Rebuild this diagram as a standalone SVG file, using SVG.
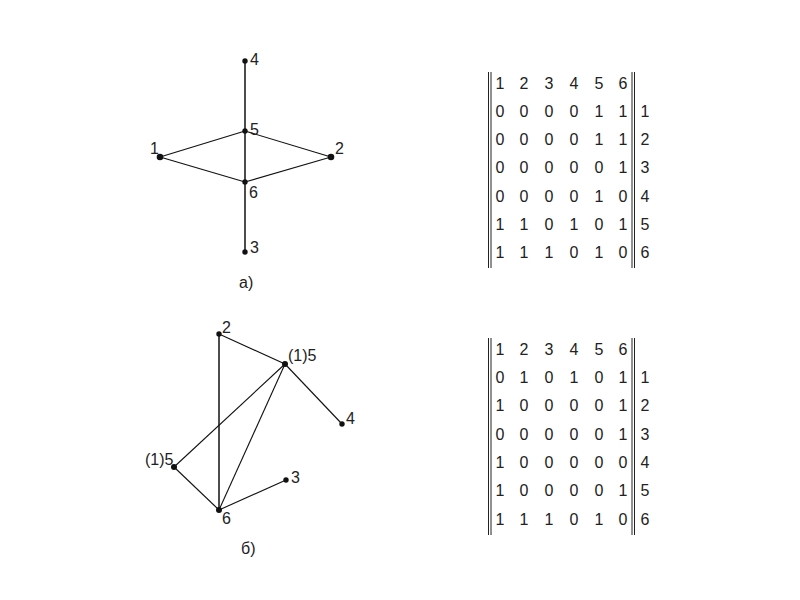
<svg xmlns="http://www.w3.org/2000/svg" width="800" height="600" viewBox="0 0 800 600">
<style>
.e{stroke:#111;stroke-width:1.1;fill:none}
.ev{stroke:#111;stroke-width:1.5;fill:none}
.d{fill:#111}
.lb{font-family:"Liberation Sans",Arial,sans-serif;font-size:16px;fill:#222}
.m{font-family:"Liberation Sans",Arial,sans-serif;font-size:16px;fill:#222;text-anchor:middle}
.bar{stroke:#222;stroke-width:1}
</style>
<rect width="800" height="600" fill="#fff"/>
<g id="connectors-a">
<line class="ev" x1="245" y1="61" x2="245" y2="131"/>
<line class="ev" x1="245" y1="131" x2="245" y2="182"/>
<line class="ev" x1="245" y1="182" x2="245" y2="252"/>
<line class="e" x1="160" y1="157" x2="245" y2="131"/>
<line class="e" x1="160" y1="157" x2="245" y2="182"/>
<line class="e" x1="331" y1="157" x2="245" y2="131"/>
<line class="e" x1="331" y1="157" x2="245" y2="182"/>
</g>
<g id="a-n4"><circle class="d" cx="245" cy="61" r="2.7"/><text class="lb" x="250" y="65">4</text></g>
<g id="a-n5"><circle class="d" cx="245" cy="131" r="2.7"/><text class="lb" x="250" y="135">5</text></g>
<g id="a-n1"><circle class="d" cx="160" cy="157" r="3.3"/><text class="lb" x="150" y="154">1</text></g>
<g id="a-n2"><circle class="d" cx="331" cy="157" r="3.3"/><text class="lb" x="335" y="154">2</text></g>
<g id="a-n6"><circle class="d" cx="245" cy="182" r="2.7"/><text class="lb" x="249" y="198">6</text></g>
<g id="a-n3"><circle class="d" cx="245" cy="252" r="2.7"/><text class="lb" x="250" y="253">3</text></g>
<text class="lb" x="239" y="288">а)</text>

<g id="connectors-b">
<line class="ev" x1="219" y1="334" x2="219" y2="510"/>
<line class="e" x1="219" y1="334" x2="285" y2="364"/>
<line class="e" x1="285" y1="364" x2="342" y2="424"/>
<line class="e" x1="285" y1="364" x2="174" y2="467"/>
<line class="e" x1="285" y1="364" x2="219" y2="510"/>
<line class="e" x1="174" y1="467" x2="219" y2="510"/>
<line class="e" x1="219" y1="510" x2="286" y2="480"/>
</g>
<g id="b-n2"><circle class="d" cx="219" cy="334" r="2.7"/><text class="lb" x="222" y="333">2</text></g>
<g id="b-n5a"><circle class="d" cx="285" cy="364" r="3"/><text class="lb" x="288" y="361">(1)5</text></g>
<g id="b-n4"><circle class="d" cx="342" cy="424" r="2.7"/><text class="lb" x="346" y="424">4</text></g>
<g id="b-n5b"><circle class="d" cx="174" cy="467" r="3"/><text class="lb" x="145" y="465">(1)5</text></g>
<g id="b-n3"><circle class="d" cx="286" cy="480" r="2.7"/><text class="lb" x="291" y="483">3</text></g>
<g id="b-n6"><circle class="d" cx="219" cy="510" r="3"/><text class="lb" x="222" y="524">6</text></g>
<text class="lb" x="241" y="554">б)</text>

<g id="matrix-a">
<line class="bar" x1="488.5" y1="72" x2="488.5" y2="268"/>
<line class="bar" x1="491" y1="72" x2="491" y2="268"/>
<line class="bar" x1="632" y1="72" x2="632" y2="268"/>
<line class="bar" x1="634.5" y1="72" x2="634.5" y2="268"/>
<text class="m" y="88.5"><tspan x="500">1</tspan><tspan x="524">2</tspan><tspan x="549">3</tspan><tspan x="574">4</tspan><tspan x="599">5</tspan><tspan x="623">6</tspan></text>
<text class="m" y="116.8"><tspan x="500">0</tspan><tspan x="524">0</tspan><tspan x="549">0</tspan><tspan x="574">0</tspan><tspan x="599">1</tspan><tspan x="623">1</tspan><tspan x="645">1</tspan></text>
<text class="m" y="145.1"><tspan x="500">0</tspan><tspan x="524">0</tspan><tspan x="549">0</tspan><tspan x="574">0</tspan><tspan x="599">1</tspan><tspan x="623">1</tspan><tspan x="645">2</tspan></text>
<text class="m" y="173.4"><tspan x="500">0</tspan><tspan x="524">0</tspan><tspan x="549">0</tspan><tspan x="574">0</tspan><tspan x="599">0</tspan><tspan x="623">1</tspan><tspan x="645">3</tspan></text>
<text class="m" y="201.7"><tspan x="500">0</tspan><tspan x="524">0</tspan><tspan x="549">0</tspan><tspan x="574">0</tspan><tspan x="599">1</tspan><tspan x="623">0</tspan><tspan x="645">4</tspan></text>
<text class="m" y="230"><tspan x="500">1</tspan><tspan x="524">1</tspan><tspan x="549">0</tspan><tspan x="574">1</tspan><tspan x="599">0</tspan><tspan x="623">1</tspan><tspan x="645">5</tspan></text>
<text class="m" y="258.3"><tspan x="500">1</tspan><tspan x="524">1</tspan><tspan x="549">1</tspan><tspan x="574">0</tspan><tspan x="599">1</tspan><tspan x="623">0</tspan><tspan x="645">6</tspan></text>
</g>

<g id="matrix-b">
<line class="bar" x1="488.5" y1="338" x2="488.5" y2="535"/>
<line class="bar" x1="491" y1="338" x2="491" y2="535"/>
<line class="bar" x1="632" y1="338" x2="632" y2="535"/>
<line class="bar" x1="634.5" y1="338" x2="634.5" y2="535"/>
<text class="m" y="354.8"><tspan x="500">1</tspan><tspan x="524">2</tspan><tspan x="549">3</tspan><tspan x="574">4</tspan><tspan x="599">5</tspan><tspan x="623">6</tspan></text>
<text class="m" y="383.1"><tspan x="500">0</tspan><tspan x="524">1</tspan><tspan x="549">0</tspan><tspan x="574">1</tspan><tspan x="599">0</tspan><tspan x="623">1</tspan><tspan x="645">1</tspan></text>
<text class="m" y="411.4"><tspan x="500">1</tspan><tspan x="524">0</tspan><tspan x="549">0</tspan><tspan x="574">0</tspan><tspan x="599">0</tspan><tspan x="623">1</tspan><tspan x="645">2</tspan></text>
<text class="m" y="439.7"><tspan x="500">0</tspan><tspan x="524">0</tspan><tspan x="549">0</tspan><tspan x="574">0</tspan><tspan x="599">0</tspan><tspan x="623">1</tspan><tspan x="645">3</tspan></text>
<text class="m" y="468"><tspan x="500">1</tspan><tspan x="524">0</tspan><tspan x="549">0</tspan><tspan x="574">0</tspan><tspan x="599">0</tspan><tspan x="623">0</tspan><tspan x="645">4</tspan></text>
<text class="m" y="496.3"><tspan x="500">1</tspan><tspan x="524">0</tspan><tspan x="549">0</tspan><tspan x="574">0</tspan><tspan x="599">0</tspan><tspan x="623">1</tspan><tspan x="645">5</tspan></text>
<text class="m" y="524.6"><tspan x="500">1</tspan><tspan x="524">1</tspan><tspan x="549">1</tspan><tspan x="574">0</tspan><tspan x="599">1</tspan><tspan x="623">0</tspan><tspan x="645">6</tspan></text>
</g>
</svg>
